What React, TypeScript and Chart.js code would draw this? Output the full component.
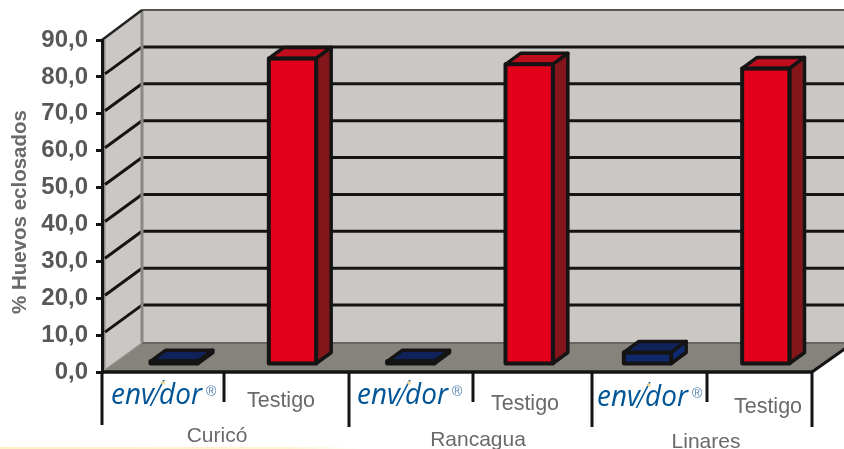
import React, { useEffect, useRef } from "react";
import { Chart, registerables } from "chart.js";

Chart.register(...registerables);

const groups = ["Curicó", "Rancagua", "Linares"];
const categories = ["envidor", "Testigo", "envidor", "Testigo", "envidor", "Testigo"];
const values = [1.0, 83.1, 1.0, 81.5, 3.4, 80.4];
const yTicks = [0, 10, 20, 30, 40, 50, 60, 70, 80, 90];
const separatorsX = [102, 224, 349, 473, 592, 707, 812];
const separatorsEnd = [425, 402, 427, 402, 427, 402, 427];
const testigoPos = [[281, 401], [525, 404], [768, 407]];
const envidorPos = [[111, 395], [357, 395], [597, 397]];
const groupPos = [[217, 436], [478, 440], [706, 442]];

const INK = "#141414";
const GREY = "#58585a";
const WALL = "#cbc7c4";
const FLOOR = "#85837c";
const FRONT = ["#10296b", "#e2001a"];
const TOP = ["#10225a", "#c00d1e"];
const SIDE = ["#0e2a70", "#84151a"];
const DEPTH_X = 40, DEPTH_Y = 30, BAR_DX = 15, BAR_DY = 11, SHIFT_X = 13, SHIFT_Y = 7;

function poly(ctx: CanvasRenderingContext2D, pts: number[][], fill?: string, stroke?: string, lw = 3) {
  ctx.beginPath();
  pts.forEach((p, i) => (i ? ctx.lineTo(p[0], p[1]) : ctx.moveTo(p[0], p[1])));
  ctx.closePath();
  if (fill) { ctx.fillStyle = fill; ctx.fill(); }
  if (stroke) { ctx.strokeStyle = stroke; ctx.lineWidth = lw; ctx.lineJoin = "round"; ctx.stroke(); }
}
function line(ctx: CanvasRenderingContext2D, x1: number, y1: number, x2: number, y2: number, c: string, lw = 3) {
  ctx.beginPath(); ctx.moveTo(x1, y1); ctx.lineTo(x2, y2);
  ctx.strokeStyle = c; ctx.lineWidth = lw; ctx.stroke();
}

const box3d = {
  id: "box3d",
  beforeDraw(chart: any) {
    const { ctx, chartArea: a, scales: { y } } = chart;
    const W = chart.width;
    const b = a.bottom, t = a.top, l = a.left, r = a.right;
    ctx.save();
    const grad = ctx.createLinearGradient(0, 0, 360, 0);
    grad.addColorStop(0, "#fdf1c4"); grad.addColorStop(0.8, "#fdf4d4"); grad.addColorStop(1, "#ffffff");
    ctx.fillStyle = grad; ctx.fillRect(0, 447, 360, 2);
    ctx.fillStyle = WALL; ctx.fillRect(l + DEPTH_X, t - DEPTH_Y, W, b - t);
    poly(ctx, [[l, t], [l + DEPTH_X, t - DEPTH_Y], [l + DEPTH_X, b - DEPTH_Y], [l, b]], WALL);
    line(ctx, l + 2.5, t, l + 2.5, b - 3, "#8d8b86", 2);
    poly(ctx, [[l, b], [l + DEPTH_X, b - DEPTH_Y], [W + 2, b - DEPTH_Y], [W + 2, b - 24], [r, b]], FLOOR);
    line(ctx, l + DEPTH_X, b - DEPTH_Y + 1, W, b - DEPTH_Y + 1, "#5c5b56", 1.5);
    line(ctx, l + 2, b - 2, l + DEPTH_X, b - DEPTH_Y + 1, "#9c9a94", 1);
    yTicks.forEach((v) => {
      const py = y.getPixelForValue(v);
      if (v > 0 && v < 90) {
        line(ctx, l + 3, py - 3, l + DEPTH_X, py - DEPTH_Y, INK, 3);
        line(ctx, l + DEPTH_X, py - DEPTH_Y, W, py - DEPTH_Y, INK, 3);
      }
    });
    line(ctx, l + DEPTH_X, t - DEPTH_Y, l + DEPTH_X, b - DEPTH_Y, "#8a8883", 3);
    line(ctx, l + DEPTH_X, t - DEPTH_Y, W, t - DEPTH_Y, "#55544f", 2);
    line(ctx, l, t, l + DEPTH_X, t - DEPTH_Y, "#222", 2.5);
    line(ctx, l, b, r, b, INK, 3.5);
    line(ctx, r, b, W + 2, b - 24, INK, 3);
    separatorsX.forEach((x, i) => line(ctx, x, b, x, separatorsEnd[i], INK, 3));
    ctx.restore();
  },
  beforeDatasetsDraw(chart: any) {
    chart.ctx.save();
    chart.ctx.translate(SHIFT_X, -SHIFT_Y);
  },
  afterDatasetsDraw(chart: any) {
    const { ctx } = chart;
    chart.getDatasetMeta(0).data.forEach((bar: any, i: number) => {
      const k = i % 2;
      const L = bar.x - bar.width / 2, R = bar.x + bar.width / 2, T = bar.y, B = bar.base;
      poly(ctx, [[L, T], [L + BAR_DX, T - BAR_DY], [R + BAR_DX, T - BAR_DY], [R, T]], TOP[k], INK, 3.5);
      poly(ctx, [[R, T], [R + BAR_DX, T - BAR_DY], [R + BAR_DX, B - BAR_DY], [R, B]], SIDE[k], INK, 3.5);
      poly(ctx, [[L, T], [R, T], [R, B], [L, B]], undefined, INK, 4);
    });
    ctx.restore();
    ctx.save();
    ctx.fillStyle = "#6a6a6c";
    ctx.font = "bold 20.5px 'Liberation Sans'";
    ctx.textAlign = "center"; ctx.textBaseline = "middle";
    ctx.translate(20, 212); ctx.rotate(-Math.PI / 2);
    ctx.fillText("% Huevos eclosados", 0, 0);
    ctx.restore();
    ctx.save();
    ctx.textAlign = "center"; ctx.textBaseline = "middle";
    ctx.fillStyle = "#6a6a6c";
    ctx.font = "21.5px 'Liberation Sans'";
    const testigos = categories.filter((c) => c === "Testigo");
    testigos.forEach((c, i) => ctx.fillText(c, testigoPos[i][0], testigoPos[i][1]));
    ctx.font = "21px 'Liberation Sans'";
    groups.forEach((g, i) => ctx.fillText(g, groupPos[i][0], groupPos[i][1]));
    envidorPos.forEach(([x, py]) => {
      ctx.save();
      ctx.textAlign = "left";
      ctx.translate(x, py);
      ctx.scale(0.93, 1);
      ctx.fillStyle = "#005596";
      ctx.font = "italic 30px 'Open Sans'";
      ctx.fillText("env", 0, 0);
      const w1 = ctx.measureText("env").width;
      ctx.font = "italic 300 36px 'Open Sans'";
      ctx.fillText("/", w1 - 3, 1);
      const w2 = ctx.measureText("/").width;
      ctx.font = "italic 30px 'Open Sans'";
      ctx.fillText("dor", w1 + w2 - 6, 0);
      ctx.restore();
      ctx.textAlign = "left";
      ctx.font = "14px 'Liberation Sans'";
      ctx.fillStyle = "#4f7fae";
      ctx.fillText("®", x + 95, py - 3);
      ctx.beginPath(); ctx.arc(x + 52, py - 12, 1.8, 0, 7);
      ctx.fillStyle = "#f6d68c"; ctx.fill();
    });
    ctx.restore();
  },
};

export default function App() {
  const ref = useRef<HTMLCanvasElement>(null);
  useEffect(() => {
    const chart = new Chart(ref.current!, {
      type: "bar",
      data: {
        labels: categories,
        datasets: [{
          data: values,
          backgroundColor: values.map((_, i) => FRONT[i % 2]),
          borderWidth: 0,
          barPercentage: 0.4,
          categoryPercentage: 1,
          clip: false,
        } as any],
      },
      plugins: [box3d],
      options: {
        animation: false,
        responsive: false,
        layout: { padding: { left: 0, top: 40, right: 32, bottom: 77 } },
        plugins: { legend: { display: false }, tooltip: { enabled: false } },
        scales: {
          x: { display: false },
          y: {
            min: 0,
            max: 90,
            afterFit: (s: any) => { s.width = 102; },
            ticks: {
              stepSize: 10,
              padding: 8,
              color: GREY,
              font: { family: "'Liberation Sans'", size: 24, weight: "bold" },
              callback: (v: any) => Number(v).toFixed(1).replace(".", ","),
            },
            grid: { drawOnChartArea: false, color: INK, lineWidth: 3, tickLength: 6 },
            border: { color: INK, width: 3 },
          },
        },
      },
    } as any);
    return () => chart.destroy();
  }, []);
  return (
    <canvas
      ref={ref}
      width={844}
      height={449}
      style={{ position: "absolute", left: 0, top: 0, width: 844, height: 449 }}
    />
  );
}
